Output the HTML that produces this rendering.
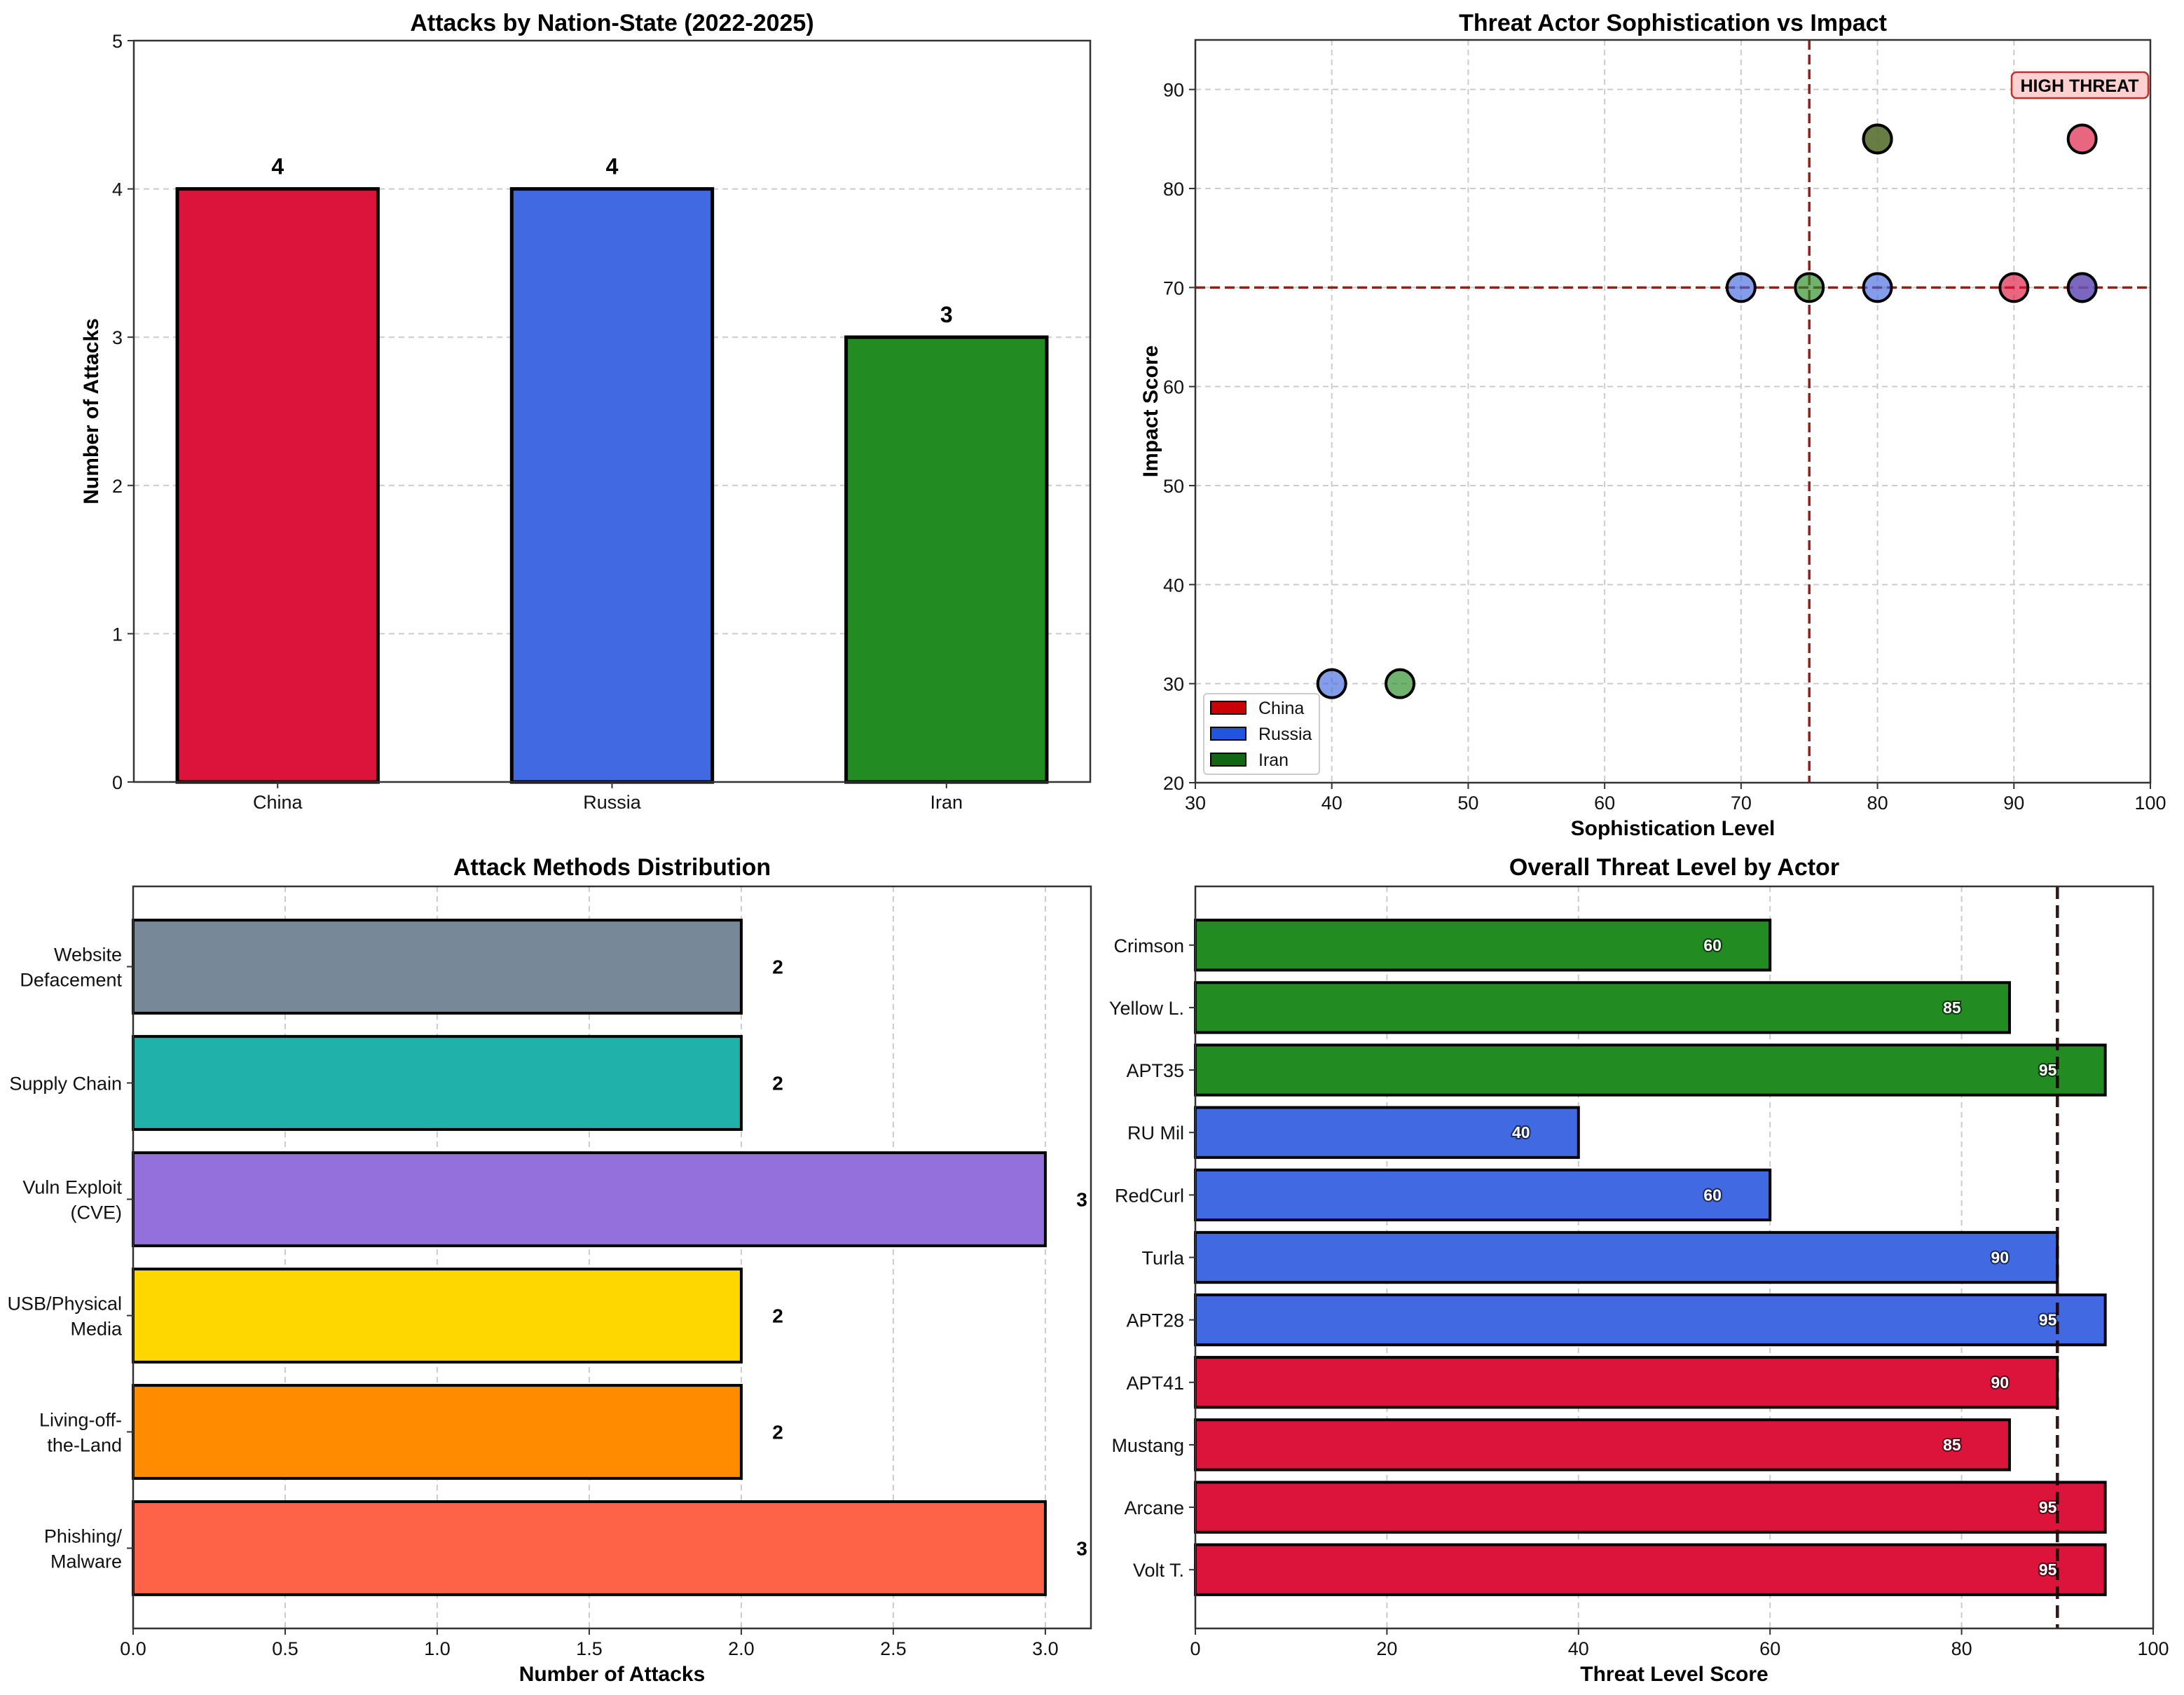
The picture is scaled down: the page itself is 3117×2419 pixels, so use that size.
<!DOCTYPE html>
<html><head><meta charset="utf-8">
<style>
html,body{margin:0;padding:0;background:#fff;}
svg{display:block;font-family:"Liberation Sans",sans-serif;}
.tick{font-size:27px;fill:#111;}
.title{font-size:34px;font-weight:bold;fill:#000;}
.alab{font-size:30px;font-weight:bold;fill:#000;}
</style></head>
<body>
<svg id="fig" width="3117" height="2419" viewBox="0 0 3117 2419" xmlns="http://www.w3.org/2000/svg"></svg>
<script>
// ---- Chart 1 data ----
const nations = ["China","Russia","Iran"];
const nationAttacks = [4,4,3];
const nationColors = ["#DC143C","#4169E1","#228B22"];
const c1Ticks = [0,1,2,3,4,5];
// ---- Chart 2 data ----
const chinaSoph = [95,90,95,80];
const chinaImpact = [85,70,70,85];
const russiaSoph = [70,80,95,40];
const russiaImpact = [70,70,70,30];
const iranSoph = [80,75,45];
const iranImpact = [85,70,30];
const c2XTicks = [30,40,50,60,70,80,90,100];
const c2YTicks = [20,30,40,50,60,70,80,90];
// ---- Chart 3 data ----
const methods = ["Phishing/\nMalware","Living-off-\nthe-Land","USB/Physical\nMedia","Vuln Exploit\n(CVE)","Supply Chain","Website\nDefacement"];
const methodCounts = [3,2,2,3,2,2];
const methodColors = ["#FF6347","#FF8C00","#FFD700","#9370DB","#20B2AA","#778899"];
const c3Ticks = [0,0.5,1.0,1.5,2.0,2.5,3.0];
// ---- Chart 4 data ----
const actors = ["Volt T.","Arcane","Mustang","APT41","APT28","Turla","RedCurl","RU Mil","APT35","Yellow L.","Crimson"];
const actorScores = [95,95,85,90,95,90,60,40,95,85,60];
const actorNation = [0,0,0,0,1,1,1,1,2,2,2];
const c4Ticks = [0,20,40,60,80,100];

const svg = document.getElementById('fig');
const NS = 'http://www.w3.org/2000/svg';
function el(tag, attrs, parent, text){
  const e = document.createElementNS(NS, tag);
  for (const k in attrs) e.setAttribute(k, attrs[k]);
  if (text !== undefined) e.textContent = text;
  (parent || svg).appendChild(e);
  return e;
}
function lin(d0,d1,r0,r1){ return v => r0 + (v-d0)/(d1-d0)*(r1-r0); }

// ================= Chart 1 =================
(function(){
  const L=191,R=1556,T=58,B=1116;
  const x = lin(-0.43,2.43,L,R), y = lin(0,5,B,T);
  const g = el('g',{});
  
  
  c1Ticks.forEach(t=>{
    const gl = el('line',{x1:L,x2:R,y1:y(t),y2:y(t),stroke:'#ccc','stroke-width':2,'stroke-dasharray':'8,6'},g);
    
    
    el('line',{x1:L-9,x2:L,y1:y(t),y2:y(t),stroke:'#333','stroke-width':2},g);
    const tl = el('text',{x:L-16,y:y(t)+10,'text-anchor':'end',class:'tick'},g,String(t));
    
    
  });
  nations.forEach((n,i)=>{
    const x0=x(i-0.3), x1=x(i+0.3);
    const r = el('rect',{x:x0,y:y(nationAttacks[i]),width:x1-x0,height:y(0)-y(nationAttacks[i]),fill:nationColors[i],stroke:'#000','stroke-width':5},g);
    
    
    const v = el('text',{x:x(i),y:y(nationAttacks[i]+0.1),'text-anchor':'middle','font-size':32,'font-weight':'bold'},g,String(nationAttacks[i]));
    
    
    el('line',{x1:x(i),x2:x(i),y1:B,y2:B+9,stroke:'#333','stroke-width':2},g);
    const tl = el('text',{x:x(i),y:B+38,'text-anchor':'middle',class:'tick'},g,n);
    
    
  });
  const fr = el('rect',{x:L,y:T,width:R-L,height:B-T,fill:'none',stroke:'#333','stroke-width':2.5},g);
  
  
  const t = el('text',{x:(L+R)/2,y:44,'text-anchor':'middle',class:'title'},g,'Attacks by Nation-State (2022-2025)');
  
  
  const yl = el('text',{x:0,y:0,transform:`translate(140,${(T+B)/2}) rotate(-90)`,'text-anchor':'middle',class:'alab'},g,'Number of Attacks');
  
  
})();

// ================= Chart 2 =================
(function(){
  const L=1706,R=3069,T=57,B=1117;
  const x = lin(30,100,L,R), y = lin(20,95,B,T);
  const g = el('g',{});
  
  
  c2XTicks.forEach(t=>{
    const gl = el('line',{x1:x(t),x2:x(t),y1:T,y2:B,stroke:'#ccc','stroke-width':2,'stroke-dasharray':'8,6'},g);
    
    
    el('line',{x1:x(t),x2:x(t),y1:B,y2:B+9,stroke:'#333','stroke-width':2},g);
    const tl = el('text',{x:x(t),y:B+38,'text-anchor':'middle',class:'tick'},g,String(t));
    
    
  });
  c2YTicks.forEach(t=>{
    const gl = el('line',{x1:L,x2:R,y1:y(t),y2:y(t),stroke:'#ccc','stroke-width':2,'stroke-dasharray':'8,6'},g);
    
    
    el('line',{x1:L-9,x2:L,y1:y(t),y2:y(t),stroke:'#333','stroke-width':2},g);
    const tl = el('text',{x:L-16,y:y(t)+10,'text-anchor':'end',class:'tick'},g,String(t));
    
    
  });
  const hl = el('line',{x1:L,x2:R,y1:y(70),y2:y(70),stroke:'#A01818','stroke-width':3.5,'stroke-dasharray':'14,7'},g);
  
  
  const vl = el('line',{x1:x(75),x2:x(75),y1:T,y2:B,stroke:'#A01818','stroke-width':3.5,'stroke-dasharray':'14,7'},g);
  
  
  const series = [[chinaSoph,chinaImpact,'#DC143C','china'],[russiaSoph,russiaImpact,'#4169E1','russia'],[iranSoph,iranImpact,'#228B22','iran']];
  series.forEach(s=>{
    s[0].forEach((sx,i)=>{
      const c = el('circle',{cx:x(sx),cy:y(s[1][i]),r:20,fill:s[2],'fill-opacity':0.65,stroke:'#000','stroke-width':4},g);
      
      
    });
  });
  const hb = el('rect',{x:2871,y:103,width:195,height:37,rx:7,fill:'#FFD0D0',stroke:'#C03030','stroke-width':2.5},g);
  
  
  const ht = el('text',{x:2968,y:131,'text-anchor':'middle','font-size':25,'font-weight':'bold'},g,'HIGH THREAT');
  
  
  // legend
  const lg = el('g',{},g);
  
  
  el('rect',{x:1718,y:990,width:165,height:115,rx:5,fill:'#fff','fill-opacity':0.85,stroke:'#ccc','stroke-width':2},lg);
  ['China','Russia','Iran'].forEach((n,i)=>{
    const cols=['#CC0000','#2255DD','#116611'];
    const ry = 1010+i*37;
    const p = el('rect',{x:1728,y:ry-9,width:50,height:18,fill:cols[i],stroke:'#000','stroke-width':2},lg);
    
    
    const lt = el('text',{x:1796,y:ry+9,'font-size':25,fill:'#111'},lg,n);
    
    
  });
  el('rect',{x:L,y:T,width:R-L,height:B-T,fill:'none',stroke:'#333','stroke-width':2.5},g);
  const t = el('text',{x:(L+R)/2,y:44,'text-anchor':'middle',class:'title'},g,'Threat Actor Sophistication vs Impact');
  
  
  const xl = el('text',{x:(L+R)/2,y:1192,'text-anchor':'middle',class:'alab'},g,'Sophistication Level');
  
  
  const yl = el('text',{x:0,y:0,transform:`translate(1652,${(T+B)/2}) rotate(-90)`,'text-anchor':'middle',class:'alab'},g,'Impact Score');
  
  
})();

// ================= Chart 3 =================
(function(){
  const L=190,R=1557,T=1265,B=2324;
  const x = lin(0,3.15,L,R), y = lin(-0.69,5.69,B,T);
  const g = el('g',{});
  
  
  c3Ticks.forEach(t=>{
    const gl = el('line',{x1:x(t),x2:x(t),y1:T,y2:B,stroke:'#ccc','stroke-width':2,'stroke-dasharray':'8,6'},g);
    
    
    el('line',{x1:x(t),x2:x(t),y1:B,y2:B+9,stroke:'#333','stroke-width':2},g);
    const tl = el('text',{x:x(t),y:B+38,'text-anchor':'middle',class:'tick'},g,t.toFixed(1));
    
    
  });
  methods.forEach((m,i)=>{
    const y0=y(i+0.4), y1=y(i-0.4);
    const r = el('rect',{x:L,y:y0,width:x(methodCounts[i])-L,height:y1-y0,fill:methodColors[i],stroke:'#000','stroke-width':4},g);
    
    
    const v = el('text',{x:x(methodCounts[i]+0.12),y:y(i)+10,'text-anchor':'middle','font-size':28,'font-weight':'bold'},g,String(methodCounts[i]));
    
    
    el('line',{x1:L-9,x2:L,y1:y(i),y2:y(i),stroke:'#333','stroke-width':2},g);
    const lines = m.split('\n');
    lines.forEach((ln,k)=>{
      const off = (k-(lines.length-1)/2)*36;
      const tl = el('text',{x:174,y:y(i)+off+10,'text-anchor':'end',class:'tick'},g,ln);
      
      
    });
  });
  el('rect',{x:L,y:T,width:R-L,height:B-T,fill:'none',stroke:'#333','stroke-width':2.5},g);
  const t = el('text',{x:(L+R)/2,y:1249,'text-anchor':'middle',class:'title'},g,'Attack Methods Distribution');
  
  
  const xl = el('text',{x:(L+R)/2,y:2399,'text-anchor':'middle',class:'alab'},g,'Number of Attacks');
  
  
})();

// ================= Chart 4 =================
(function(){
  const L=1706,R=3073,T=1265,B=2324;
  const x = lin(0,100,L,R), y = lin(-0.94,10.94,B,T);
  const cols = ["#DC143C","#4169E1","#228B22"];
  const g = el('g',{});
  
  
  c4Ticks.forEach(t=>{
    const gl = el('line',{x1:x(t),x2:x(t),y1:T,y2:B,stroke:'#ccc','stroke-width':2,'stroke-dasharray':'8,6'},g);
    
    
    el('line',{x1:x(t),x2:x(t),y1:B,y2:B+9,stroke:'#333','stroke-width':2},g);
    const tl = el('text',{x:x(t),y:B+38,'text-anchor':'middle',class:'tick'},g,String(t));
    
    
  });
  actors.forEach((a,i)=>{
    const y0=y(i+0.4), y1=y(i-0.4);
    const r = el('rect',{x:L,y:y0,width:x(actorScores[i])-L,height:y1-y0,fill:cols[actorNation[i]],stroke:'#000','stroke-width':4},g);
    
    
    el('line',{x1:L-9,x2:L,y1:y(i),y2:y(i),stroke:'#333','stroke-width':2},g);
    const tl = el('text',{x:1690,y:y(i)+10,'text-anchor':'end',class:'tick'},g,a);
    
    
  });
  const vl = el('line',{x1:x(90),x2:x(90),y1:T,y2:B,stroke:'#1a0000','stroke-opacity':0.9,'stroke-width':4.5,'stroke-dasharray':'18,9'},g);
  
  
  actors.forEach((a,i)=>{
    const v = el('text',{x:x(actorScores[i]-6),y:y(i)+8,'text-anchor':'middle','font-size':23,'font-weight':'bold',fill:'#fff',stroke:'#000','stroke-opacity':0.6,'stroke-width':4,'paint-order':'stroke'},g,String(actorScores[i]));
    
    
  });
  el('rect',{x:L,y:T,width:R-L,height:B-T,fill:'none',stroke:'#333','stroke-width':2.5},g);
  const t = el('text',{x:(L+R)/2,y:1249,'text-anchor':'middle',class:'title'},g,'Overall Threat Level by Actor');
  
  
  const xl = el('text',{x:(L+R)/2,y:2399,'text-anchor':'middle',class:'alab'},g,'Threat Level Score');
  
  
})();
</script>
</body></html>
